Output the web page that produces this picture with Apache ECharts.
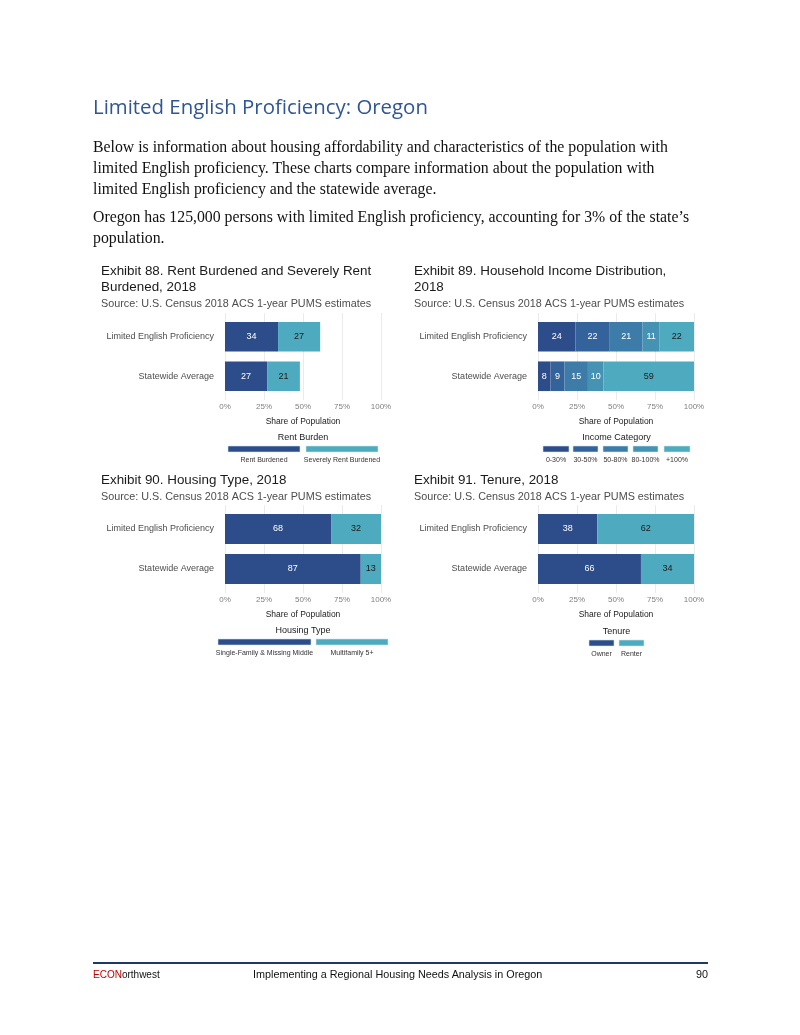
<!DOCTYPE html>
<html>
<head>
<meta charset="utf-8">
<script src="https://cdn.jsdelivr.net/npm/echarts@6/dist/echarts.min.js"></script>
<style>
  html, body { margin:0; padding:0; background:#fff; }
  #page { position:relative; width:800px; height:1035px; overflow:hidden; }
  #chart { position:absolute; left:0; top:0; width:800px; height:1035px; }
  .t { position:absolute; white-space:pre; }
  .h1 { left:93px; top:92px; font-family:"Open Sans", sans-serif; font-size:20.4px; color:#2f5597; }
  .body { left:93px; font-family:"Liberation Serif", serif; font-size:15.8px; color:#111; line-height:18px; }
  .foot { top:969px; font-family:"Liberation Sans", sans-serif; font-size:10px; color:#111; }
  #rule { position:absolute; left:93px; top:962px; width:615px; height:2px; background:#1f3864; }
</style>
</head>
<body>
<div id="page">
  <div id="chart"></div>
  <div class="t h1">Limited English Proficiency: Oregon</div>
  <div class="t body" style="top:138px">Below is information about housing affordability and characteristics of the population with</div>
  <div class="t body" style="top:159px">limited English proficiency. These charts compare information about the population with</div>
  <div class="t body" style="top:180px">limited English proficiency and the statewide average.</div>
  <div class="t body" style="top:208px">Oregon has 125,000 persons with limited English proficiency, accounting for 3% of the state’s</div>
  <div class="t body" style="top:229px">population.</div>
  <div id="rule"></div>
  <div class="t foot" style="left:93px"><span style="color:#c00000">ECON</span>orthwest</div>
  <div class="t foot" style="left:253px;font-size:10.8px;top:968px">Implementing a Regional Housing Needs Analysis in Oregon</div>
  <div class="t foot" style="left:680px;width:28px;text-align:right;font-size:10.8px;top:968px">90</div>
</div>
<script>
// ---------- data ----------
const categories = ['Limited English Proficiency', 'Statewide Average'];
const xTicks = [0, 25, 50, 75, 100];

const rentNames = ['Rent Burdened', 'Severely Rent Burdened'];
const rentBurdened = [34, 27];
const severelyRentBurdened = [27, 21];

const incomeNames = ['0-30%', '30-50%', '50-80%', '80-100%', '+100%'];
const income0to30 = [24, 8];
const income30to50 = [22, 9];
const income50to80 = [21, 15];
const income80to100 = [11, 10];
const income100plus = [22, 59];

const housingNames = ['Single-Family & Missing Middle', 'Multifamily 5+'];
const singleFamily = [68, 87];
const multifamily = [32, 13];

const tenureNames = ['Owner', 'Renter'];
const owner = [38, 66];
const renter = [62, 34];

// ---------- styling ----------
const NAVY = '#2c4c8a', TEAL = '#4eabbf';
const incomeColors = ['#2c4c8a', '#34629a', '#3d7ba8', '#4592b3', '#4eabbf'];
const FONT = '"Liberation Sans", Arial, sans-serif';

const panels = [
  { title: 'Exhibit 88. Rent Burdened and Severely Rent\nBurdened, 2018', tx: 101, ty: 263,
    grid: { left: 225, width: 156, top: 317, height: 79 }, bg: { top: 313, height: 87 },
    names: rentNames, values: [rentBurdened, severelyRentBurdened], colors: [NAVY, TEAL],
    legendTitle: 'Rent Burden', legendY: 446, legendX: [228, 306], legendW: [72, 72] },
  { title: 'Exhibit 89. Household Income Distribution,\n2018', tx: 414, ty: 263,
    grid: { left: 538, width: 156, top: 317, height: 79 }, bg: { top: 313, height: 87 },
    names: incomeNames, values: [income0to30, income30to50, income50to80, income80to100, income100plus], colors: incomeColors,
    legendTitle: 'Income Category', legendY: 446, legendX: [543, 573, 603, 633, 664], legendW: [26, 25, 25, 25, 26] },
  { title: 'Exhibit 90. Housing Type, 2018', tx: 101, ty: 472,
    grid: { left: 225, width: 156, top: 509, height: 80 }, bg: { top: 505, height: 88 },
    names: housingNames, values: [singleFamily, multifamily], colors: [NAVY, TEAL],
    legendTitle: 'Housing Type', legendY: 639, legendX: [218, 316], legendW: [93, 72] },
  { title: 'Exhibit 91. Tenure, 2018', tx: 414, ty: 472,
    grid: { left: 538, width: 156, top: 509, height: 80 }, bg: { top: 505, height: 88 },
    names: tenureNames, values: [owner, renter], colors: [NAVY, TEAL],
    legendTitle: 'Tenure', legendY: 640, legendX: [589, 619], legendW: [25, 25] }
];

const option = {
  animation: false,
  textStyle: { fontFamily: FONT },
  title: [], grid: [], xAxis: [], yAxis: [], series: [], graphic: []
};

const N = panels.length;
panels.forEach((p, i) => {
  option.title.push({
    text: p.title, left: p.tx, top: p.ty, padding: 0, itemGap: 3,
    textStyle: { fontFamily: FONT, fontSize: 13.4, fontWeight: 'normal', color: '#1a1a1a', lineHeight: 16 },
    subtext: 'Source: U.S. Census 2018 ACS 1-year PUMS estimates',
    subtextStyle: { fontFamily: FONT, fontSize: 10.8, color: '#4d4d4d', lineHeight: 13 }
  });
  option.grid.push(Object.assign({}, p.grid));
  option.xAxis.push({
    type: 'value', gridIndex: i, min: xTicks[0], max: xTicks[xTicks.length - 1],
    interval: xTicks[1] - xTicks[0],
    axisLine: { show: false }, axisTick: { show: false },
    splitLine: { show: false },
    axisLabel: { formatter: '{value}%', fontSize: 8, color: '#7f7f7f', margin: 7, fontFamily: FONT },
    name: 'Share of Population', nameLocation: 'middle', nameGap: 21,
    nameTextStyle: { fontSize: 8.5, color: '#1a1a1a', fontFamily: FONT }
  });
  option.yAxis.push({
    type: 'category', gridIndex: i, data: categories, inverse: true,
    axisLine: { show: false }, axisTick: { show: false },
    axisLabel: { fontSize: 9, color: '#4d4d4d', margin: 11, fontFamily: FONT }
  });
  p.names.forEach((n, k) => {
    const isLast = k === p.names.length - 1;
    option.series.push({
      type: 'bar', name: n, xAxisIndex: i, yAxisIndex: i, stack: 'p' + i,
      data: p.values[k], barWidth: '75%', clip: true, z: 3,
      itemStyle: { color: p.colors[k] },
      label: { show: true, position: 'inside', fontSize: 9, fontFamily: FONT,
        color: isLast ? '#1a1a1a' : '#ffffff' }
    });
  });
  // legend (drawn under the plot, labels centered beneath keys)
  const left = p.legendX[0];
  const right = p.legendX[p.legendX.length - 1] + p.legendW[p.legendW.length - 1];
  option.graphic.push({
    type: 'text', x: (left + right) / 2, y: p.legendY - 8,
    style: { text: p.legendTitle, font: '9px ' + FONT, fill: '#1a1a1a', textAlign: 'center', textVerticalAlign: 'middle' }
  });
  p.names.forEach((n, k) => {
    option.graphic.push({
      type: 'rect', shape: { x: p.legendX[k], y: p.legendY, width: p.legendW[k], height: 6 },
      style: { fill: p.colors[k], stroke: '#cfe6ee', lineWidth: 0.6 }
    });
    option.graphic.push({
      type: 'text', x: p.legendX[k] + p.legendW[k] / 2, y: p.legendY + 14,
      style: { text: n, font: '7px ' + FONT, fill: '#333333', textAlign: 'center', textVerticalAlign: 'middle' }
    });
  });
});

// background panel grids: gridlines that extend past the bars (ggplot-style expansion)
panels.forEach((p, i) => {
  option.grid.push({ left: p.grid.left, width: p.grid.width, top: p.bg.top, height: p.bg.height, z: 0 });
  option.xAxis.push({
    type: 'value', gridIndex: N + i, min: xTicks[0], max: xTicks[xTicks.length - 1],
    interval: xTicks[1] - xTicks[0], z: 0,
    axisLine: { show: false }, axisTick: { show: false }, axisLabel: { show: false },
    splitLine: { show: true, lineStyle: { color: '#ebebeb', width: 1 } }
  });
  option.yAxis.push({
    type: 'category', gridIndex: N + i, data: categories, z: 0,
    axisLine: { show: false }, axisTick: { show: false }, axisLabel: { show: false },
    splitLine: { show: false }
  });
});

const chart = echarts.init(document.getElementById('chart'), null, { renderer: 'canvas' });
chart.setOption(option);
</script>
</body>
</html>
